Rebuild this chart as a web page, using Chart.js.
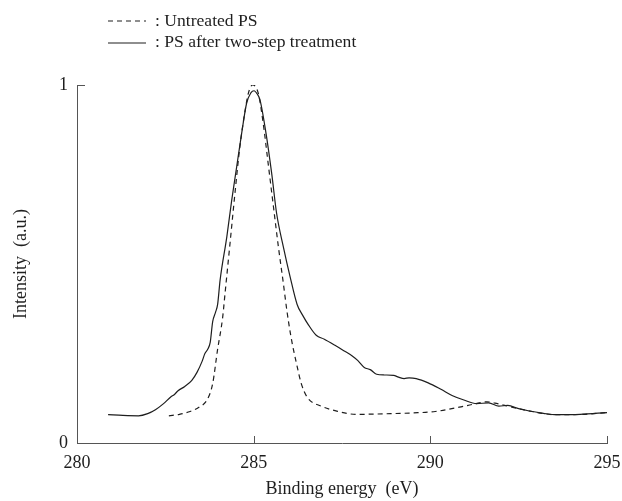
<!DOCTYPE html>
<html>
<head>
<meta charset="utf-8">
<script src="https://cdn.jsdelivr.net/npm/chart.js@4.4.0/dist/chart.umd.min.js"></script>
<style>
  html, body { margin: 0; padding: 0; background: #fff; }
  #wrap { width: 622px; height: 501px; position: relative; }
</style>
</head>
<body>
<div id="wrap"><canvas id="xpsChart"></canvas></div>
<script>
const xTicks = [280, 285, 290, 295];
const yTicks = [0, 1];

const legendLabels = [": Untreated PS", ": PS after two-step treatment"];

// untreated PS (dashed)
const untreatedX = [282.60, 282.9, 283.20, 283.45, 283.69, 283.84, 283.98, 284.12, 284.19, 284.33,
  284.47, 284.61, 284.76, 284.85, 284.97, 285.13, 285.27, 285.41, 285.56, 285.70,
  285.84, 285.94, 286.05, 286.23, 286.35, 286.52, 286.91, 287.4, 287.89, 288.87,
  289.5, 290.14, 290.82, 291.2, 291.60, 291.9, 292.19, 292.77, 293.56, 294.3, 295.0];
const untreatedY = [0.076, 0.080, 0.088, 0.100, 0.122, 0.166, 0.262, 0.349, 0.418, 0.557,
  0.697, 0.828, 0.930, 0.977, 1.0, 0.977, 0.893, 0.781, 0.660, 0.548,
  0.446, 0.370, 0.300, 0.214, 0.165, 0.127, 0.103, 0.088, 0.080, 0.082,
  0.084, 0.088, 0.100, 0.108, 0.115, 0.110, 0.103, 0.090, 0.079, 0.080, 0.085];

// PS after two-step treatment (solid)
const treatedX = [280.88, 281.3, 281.74, 282.0, 282.22, 282.45, 282.66, 282.75, 282.86, 283.05,
  283.25, 283.40, 283.54, 283.62, 283.70, 283.77, 283.84, 283.92, 283.98, 284.05,
  284.24, 284.38, 284.52, 284.66, 284.80, 284.92, 285.01, 285.10, 285.18, 285.35,
  285.51, 285.65, 285.84, 286.03, 286.23, 286.38, 286.55, 286.77, 287.0, 287.30,
  287.55, 287.79, 287.95, 288.13, 288.30, 288.48, 288.70, 288.96, 289.10, 289.26,
  289.40, 289.60, 289.94, 290.3, 290.63, 290.95, 291.31, 291.65, 291.94, 292.19,
  292.5, 292.77, 293.2, 293.56, 294.24, 295.0];
const treatedY = [0.079, 0.077, 0.076, 0.082, 0.093, 0.110, 0.129, 0.135, 0.146, 0.158,
  0.175, 0.198, 0.228, 0.250, 0.262, 0.281, 0.339, 0.365, 0.387, 0.455,
  0.576, 0.679, 0.772, 0.865, 0.949, 0.978, 0.984, 0.975, 0.958, 0.865,
  0.753, 0.641, 0.548, 0.465, 0.387, 0.358, 0.330, 0.301, 0.290, 0.273,
  0.258, 0.243, 0.230, 0.211, 0.205, 0.192, 0.190, 0.189, 0.184, 0.180,
  0.182, 0.180, 0.168, 0.150, 0.132, 0.120, 0.110, 0.112, 0.103, 0.105,
  0.096, 0.090, 0.083, 0.079, 0.080, 0.085];

const serif = "'Liberation Serif', 'Times New Roman', serif";
const ink = "#1e1e1e";
const axisColor = "#555";

function pairs(xs, ys) {
  return xs.map((x, i) => ({ x: x, y: ys[i] }));
}

// inward tick marks + legend drawn on the canvas
const extrasPlugin = {
  id: "extras",
  afterDraw(chart) {
    const ctx = chart.ctx;
    const xs = chart.scales.x;
    const ys = chart.scales.y;
    const bottom = ys.getPixelForValue(0);
    const left = xs.getPixelForValue(280);

    ctx.save();
    ctx.strokeStyle = axisColor;
    ctx.lineWidth = 1;
    ctx.beginPath();
    xTicks.slice(1).forEach(v => {
      const px = Math.round(xs.getPixelForValue(v)) + 0.5;
      ctx.moveTo(px, bottom);
      ctx.lineTo(px, bottom - 7);
    });
    yTicks.slice(1).forEach(v => {
      const py = Math.round(ys.getPixelForValue(v)) + 0.5;
      ctx.moveTo(left, py);
      ctx.lineTo(left + 8, py);
    });
    ctx.stroke();

    // legend
    ctx.strokeStyle = ink;
    ctx.lineWidth = 1.2;
    ctx.setLineDash([5, 4]);
    ctx.beginPath();
    ctx.moveTo(108, 21);
    ctx.lineTo(146, 21);
    ctx.stroke();
    ctx.setLineDash([]);
    ctx.beginPath();
    ctx.moveTo(108, 43);
    ctx.lineTo(146, 43);
    ctx.stroke();

    ctx.fillStyle = ink;
    ctx.font = "17.6px " + serif;
    ctx.textBaseline = "alphabetic";
    ctx.fillText(legendLabels[0], 155, 25.5);
    ctx.fillText(legendLabels[1], 155, 47);
    ctx.restore();
  }
};

new Chart(document.getElementById("xpsChart"), {
  type: "scatter",
  data: {
    datasets: [
      {
        label: "Untreated PS",
        data: pairs(untreatedX, untreatedY),
        showLine: true,
        borderColor: ink,
        borderWidth: 1.2,
        borderDash: [5, 4],
        pointRadius: 0,
        cubicInterpolationMode: "monotone"
      },
      {
        label: "PS after two-step treatment",
        data: pairs(treatedX, treatedY),
        showLine: true,
        borderColor: ink,
        borderWidth: 1.2,
        pointRadius: 0,
        cubicInterpolationMode: "monotone"
      }
    ]
  },
  options: {
    responsive: true,
    maintainAspectRatio: false,
    animation: false,
    layout: { padding: { top: 85, right: 15, left: 0, bottom: 0 } },
    plugins: {
      legend: { display: false },
      tooltip: { enabled: false }
    },
    scales: {
      x: {
        type: "linear",
        min: 280,
        max: 295,
        afterBuildTicks: s => { s.ticks = xTicks.map(v => ({ value: v })); },
        afterFit: s => { s.height = 58; s.paddingLeft = 0; s.paddingRight = 0; },
        grid: { display: false, drawTicks: false },
        border: { display: true, color: axisColor, width: 1 },
        ticks: { color: ink, padding: 9, font: { family: serif, size: 18 }, maxRotation: 0 },
        title: {
          display: true,
          text: "Binding energy  (eV)",
          color: ink,
          font: { family: serif, size: 18 },
          padding: { top: 0, bottom: 1 }
        }
      },
      y: {
        min: 0,
        max: 1,
        afterBuildTicks: s => { s.ticks = yTicks.map(v => ({ value: v })); },
        afterFit: s => { s.width = 77; s.paddingTop = 0; s.paddingBottom = 0; },
        grid: { display: false, drawTicks: false },
        border: { display: true, color: axisColor, width: 1 },
        ticks: { color: ink, padding: 9, font: { family: serif, size: 18 } },
        title: {
          display: true,
          text: "Intensity  (a.u.)",
          color: ink,
          font: { family: serif, size: 18 },
          padding: { top: 10, bottom: 0 }
        }
      }
    }
  },
  plugins: [extrasPlugin]
});
</script>
</body>
</html>
